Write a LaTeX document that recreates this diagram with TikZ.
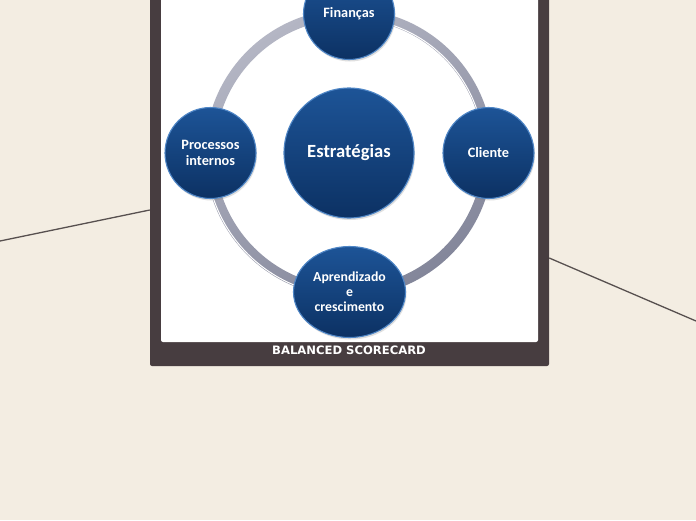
\documentclass[tikz,border=0pt]{standalone}
\usepackage{fontspec}
\setmainfont{Carlito}
\newfontfamily\capfont{DejaVu Sans}
\usetikzlibrary{positioning, shapes.geometric, shadows, calc}

\definecolor{paper}{HTML}{F3EDE2}
\definecolor{frame}{HTML}{473D40}
\definecolor{blueA}{HTML}{1D5497}
\definecolor{blueB}{HTML}{0C3163}
\definecolor{rim}{HTML}{4F86C6}
\definecolor{ringA}{HTML}{B4B6C4}
\definecolor{ringB}{HTML}{83869A}
\definecolor{linkc}{HTML}{57504F}

\begin{document}
\begin{tikzpicture}[
  x=1pt, y=-1pt,
  pillar/.style={circle, minimum size=91pt, inner sep=1pt, align=center,
                 top color=blueA, bottom color=blueB, draw=rim, line width=1.1pt,
                 text=white, font=\bfseries\fontsize{14.3}{16}\selectfont,
                 drop shadow={shadow xshift=1pt, shadow yshift=-2pt, opacity=0.25}},
  core/.style={pillar, minimum size=130pt, font=\bfseries\fontsize{18.6}{20}\selectfont},
  link/.style={linkc, line width=1.3pt},
]
  \useasboundingbox[fill=paper] (0,0) rectangle (696,520);

  % Balanced scorecard frame
  \node[fill=frame, rounded corners=2pt, minimum width=399pt, minimum height=376pt,
        inner sep=0pt] (bsc) at (349.5,178) {};
  \node[fill=white, rounded corners=2pt, minimum width=377pt, minimum height=352pt,
        inner sep=0pt] (page) at (349.5,166) {};
  \node[text=white, font=\capfont\bfseries\fontsize{11.6}{13}\selectfont] (cap) at (349,350) {BALANCED SCORECARD};

  % Links to the rest of the map
  \coordinate (lfar) at (0,241);
  \coordinate (lnear) at (150,210);
  \coordinate (rfar) at (696,321);
  \coordinate (rnear) at (549,258);
  \draw[link] (lfar) -- (bsc.west |- lnear);
  \draw[link] (bsc.east |- rnear) -- (rfar);

  % Ring
  \coordinate (hub) at (349,153);
  \shade[even odd rule, left color=ringA, right color=ringB, shading angle=30]
    (hub) circle (144) (hub) circle (134);
  \draw[white, line width=1pt] ($(hub)+(-10:135)$) arc (-10:-80:135);
  \draw[white, line width=1pt] ($(hub)+(100:143)$) arc (100:170:143);

  % Perspectives
  \node[core] (est) at (hub) {Estratégias};
  \node[pillar] (fin) at (349,14) {Finanças};
  \node[pillar] (pro) at (210.5,153) {Processos\\internos};
  \node[pillar] (cli) at (488.5,153) {Cliente};
  \node[pillar, ellipse, minimum width=112pt, minimum height=91pt,
        font=\bfseries\fontsize{13.8}{15}\selectfont] (apr) at (349.5,292) {Aprendizado\\e\\crescimento};
\end{tikzpicture}
\end{document}
